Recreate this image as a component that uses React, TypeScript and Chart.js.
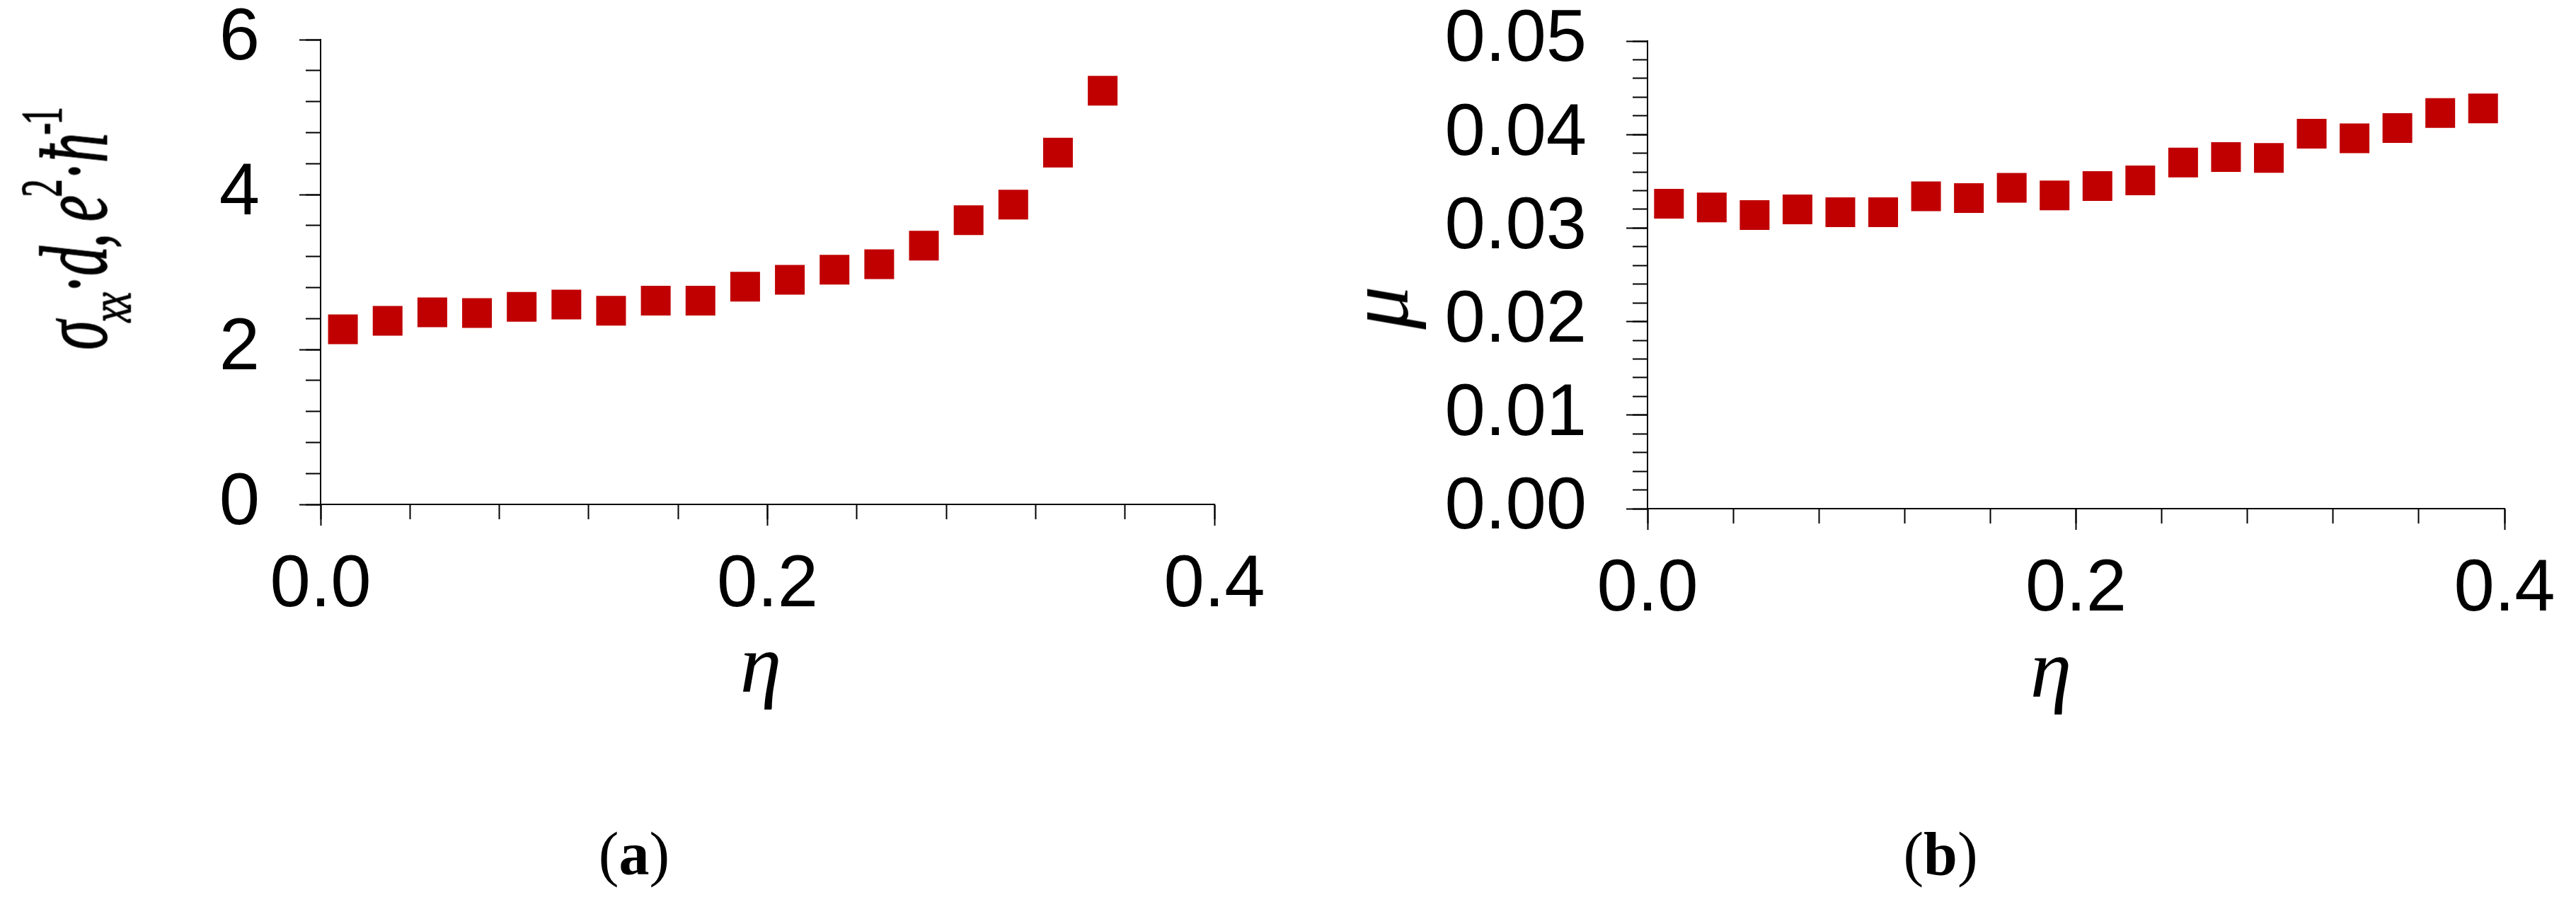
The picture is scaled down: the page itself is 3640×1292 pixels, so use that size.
import React, { useEffect, useRef } from "react";
import { Chart, registerables } from "chart.js";

Chart.register(...registerables);

// ---------- Panel (a): sigma_xx * d vs eta ----------
const etaA = [0.01, 0.03, 0.05, 0.07, 0.09, 0.11, 0.13, 0.15, 0.17, 0.19, 0.21, 0.23, 0.25, 0.27, 0.29, 0.31, 0.33, 0.35];
const sigmaA = [2.26, 2.37, 2.48, 2.47, 2.55, 2.58, 2.5, 2.63, 2.63, 2.81, 2.9, 3.03, 3.1, 3.34, 3.67, 3.87, 4.54, 5.34];
const xTicksA = [0, 0.2, 0.4];
const xLabelsA = ["0.0", "0.2", "0.4"];
const yTicksA = [0, 2, 4, 6];
const yLabelsA = ["0", "2", "4", "6"];

// ---------- Panel (b): mu vs eta ----------
const etaB = [0.01, 0.03, 0.05, 0.07, 0.09, 0.11, 0.13, 0.15, 0.17, 0.19, 0.21, 0.23, 0.25, 0.27, 0.29, 0.31, 0.33, 0.35, 0.37, 0.39];
const muB = [0.0326, 0.0322, 0.0314, 0.032, 0.0317, 0.0317, 0.0334, 0.0332, 0.0343, 0.0335, 0.0345, 0.0351, 0.037, 0.0376, 0.0375, 0.0401, 0.0396, 0.0407, 0.0423, 0.0428];
const xTicksB = [0, 0.2, 0.4];
const xLabelsB = ["0.0", "0.2", "0.4"];
const yTicksB = [0, 0.01, 0.02, 0.03, 0.04, 0.05];
const yLabelsB = ["0.00", "0.01", "0.02", "0.03", "0.04", "0.05"];

const RED = "#C00000";
const BLACK = "#000000";
const TICK_FONT = { family: "'Liberation Sans', Arial, sans-serif", size: 103, lineHeight: 1 };
const SERIF = "'Liberation Serif', 'Times New Roman', serif";

type Area = { left: number; top: number; right: number; bottom: number };

type PanelProps = {
  left: number;
  width: number;
  height: number;
  area: Area;
  xs: number[];
  ys: number[];
  xMin: number;
  xMax: number;
  yMin: number;
  yMax: number;
  xTicks: number[];
  xLabels: string[];
  yTicks: number[];
  yLabels: string[];
  xMinorStep: number;
  yMinorStep: number;
};

function Panel(p: PanelProps) {
  const ref = useRef<HTMLCanvasElement | null>(null);
  useEffect(() => {
    if (!ref.current) return;
    const gridMajor = {
      drawOnChartArea: false,
      drawTicks: true,
      tickLength: 30,
      tickWidth: 2,
      tickColor: BLACK,
    };
    const gridMinor = {
      drawOnChartArea: false,
      drawTicks: true,
      tickLength: 21,
      tickWidth: 2,
      tickColor: BLACK,
    };
    const chart = new Chart(ref.current, {
      type: "scatter",
      data: {
        datasets: [
          {
            data: p.xs.map((x, i) => ({ x, y: p.ys[i] })),
            pointStyle: "rect",
            pointRadius: 29.7,
            pointHoverRadius: 29.7,
            pointBackgroundColor: RED,
            backgroundColor: RED,
            pointBorderWidth: 0,
            borderWidth: 0,
            showLine: false,
            clip: false,
            xAxisID: "x",
            yAxisID: "y",
          } as any,
        ],
      },
      options: {
        responsive: false,
        animation: false,
        devicePixelRatio: 1,
        events: [],
        layout: {
          padding: { top: p.area.top, right: p.width - p.area.right, left: 0, bottom: 0 },
        },
        plugins: { legend: { display: false }, tooltip: { enabled: false }, title: { display: false } },
        scales: {
          x: {
            type: "linear",
            position: "bottom",
            weight: 1,
            min: p.xMin,
            max: p.xMax,
            afterBuildTicks: (s: any) => {
              s.ticks = p.xTicks.map((v) => ({ value: v }));
            },
            afterFit: (s: any) => {
              s.height = p.height - p.area.bottom;
              s.paddingLeft = 0;
              s.paddingRight = 0;
            },
            ticks: {
              callback: (_v: any, i: number) => p.xLabels[i],
              font: TICK_FONT,
              color: BLACK,
              padding: 34,
              maxRotation: 0,
              minRotation: 0,
              autoSkip: false,
            },
            grid: gridMajor,
            border: { display: true, color: BLACK, width: 2 },
          },
          xMinor: {
            type: "linear",
            position: "bottom",
            weight: 0,
            min: p.xMin,
            max: p.xMax,
            afterFit: (s: any) => {
              s.height = 0;
              s.paddingLeft = 0;
              s.paddingRight = 0;
            },
            ticks: { display: false, stepSize: p.xMinorStep, autoSkip: false, maxTicksLimit: 1000 },
            grid: gridMinor,
            border: { display: false },
          },
          y: {
            type: "linear",
            position: "left",
            weight: 1,
            min: p.yMin,
            max: p.yMax,
            afterBuildTicks: (s: any) => {
              s.ticks = p.yTicks.map((v) => ({ value: v }));
            },
            afterFit: (s: any) => {
              s.width = p.area.left;
              s.paddingTop = 0;
              s.paddingBottom = 0;
            },
            ticks: {
              callback: (_v: any, i: number) => p.yLabels[i],
              font: TICK_FONT,
              color: BLACK,
              padding: 56,
              autoSkip: false,
            },
            grid: gridMajor,
            border: { display: true, color: BLACK, width: 2 },
          },
          yMinor: {
            type: "linear",
            position: "left",
            weight: 0,
            min: p.yMin,
            max: p.yMax,
            afterFit: (s: any) => {
              s.width = 0;
              s.paddingTop = 0;
              s.paddingBottom = 0;
            },
            ticks: { display: false, stepSize: p.yMinorStep, autoSkip: false, maxTicksLimit: 1000 },
            grid: gridMinor,
            border: { display: false },
          },
        },
      } as any,
    });
    return () => chart.destroy();
  }, []);
  return (
    <canvas
      ref={ref}
      width={p.width}
      height={p.height}
      style={{ position: "absolute", left: p.left, top: 0, width: p.width, height: p.height }}
    />
  );
}

const abs = (extra: React.CSSProperties): React.CSSProperties => ({
  position: "absolute",
  whiteSpace: "nowrap",
  lineHeight: 1,
  color: BLACK,
  fontFamily: SERIF,
  ...extra,
});

const supStyle: React.CSSProperties = { fontSize: "0.6em", fontStyle: "normal", verticalAlign: "0.78em" };

export default function App() {
  return (
    <div
      style={{
        position: "absolute",
        left: 0,
        top: 0,
        width: 3640,
        height: 1292,
        background: "#ffffff",
        overflow: "hidden",
      }}
    >
      <Panel
        left={0}
        width={1800}
        height={1050}
        area={{ left: 453, top: 56, right: 1716, bottom: 713 }}
        xs={etaA}
        ys={sigmaA}
        xMin={0}
        xMax={0.4}
        yMin={0}
        yMax={6}
        xTicks={xTicksA}
        xLabels={xLabelsA}
        yTicks={yTicksA}
        yLabels={yLabelsA}
        xMinorStep={0.04}
        yMinorStep={0.4}
      />
      <Panel
        left={1800}
        width={1840}
        height={1050}
        area={{ left: 528, top: 58, right: 1739, bottom: 719 }}
        xs={etaB}
        ys={muB}
        xMin={0}
        xMax={0.4}
        yMin={0}
        yMax={0.05}
        xTicks={xTicksB}
        xLabels={xLabelsB}
        yTicks={yTicksB}
        yLabels={yLabelsB}
        xMinorStep={0.04}
        yMinorStep={0.002}
      />

      {/* y-axis title, panel (a) */}
      <div
        style={abs({
          left: 108,
          top: 324,
          fontSize: 136,
          fontStyle: "italic",
          letterSpacing: "-0.03em",
          WebkitTextStroke: "1.5px #000",
          transform: "translate(-50%, -50%) rotate(-90deg) scaleX(0.62)",
        })}
      >
        σ
        <span style={{ fontSize: "0.6em", verticalAlign: "-0.42em" }}>xx</span>
        <span style={{ fontStyle: "normal" }}>·</span>d, e
        <span style={supStyle}>2</span>
        <span style={{ fontStyle: "normal" }}>·</span>ħ
        <span style={supStyle}>-1</span>
      </div>

      {/* x-axis titles */}
      <div style={abs({ left: 1075, top: 880, fontSize: 118, fontStyle: "italic", transform: "translateX(-50%)" })}>η</div>
      <div style={abs({ left: 2898, top: 887, fontSize: 118, fontStyle: "italic", transform: "translateX(-50%)" })}>η</div>

      {/* y-axis title, panel (b) */}
      <div
        style={abs({
          left: 1948,
          top: 435,
          fontSize: 122,
          fontStyle: "italic",
          transform: "translate(-50%, -50%) rotate(-90deg)",
        })}
      >
        μ
      </div>

      {/* captions */}
      <div style={abs({ left: 896, top: 1164, fontSize: 86, transform: "translateX(-50%)" })}>
        (<b>a</b>)
      </div>
      <div style={abs({ left: 2742, top: 1164, fontSize: 86, transform: "translateX(-50%)" })}>
        (<b>b</b>)
      </div>
    </div>
  );
}
